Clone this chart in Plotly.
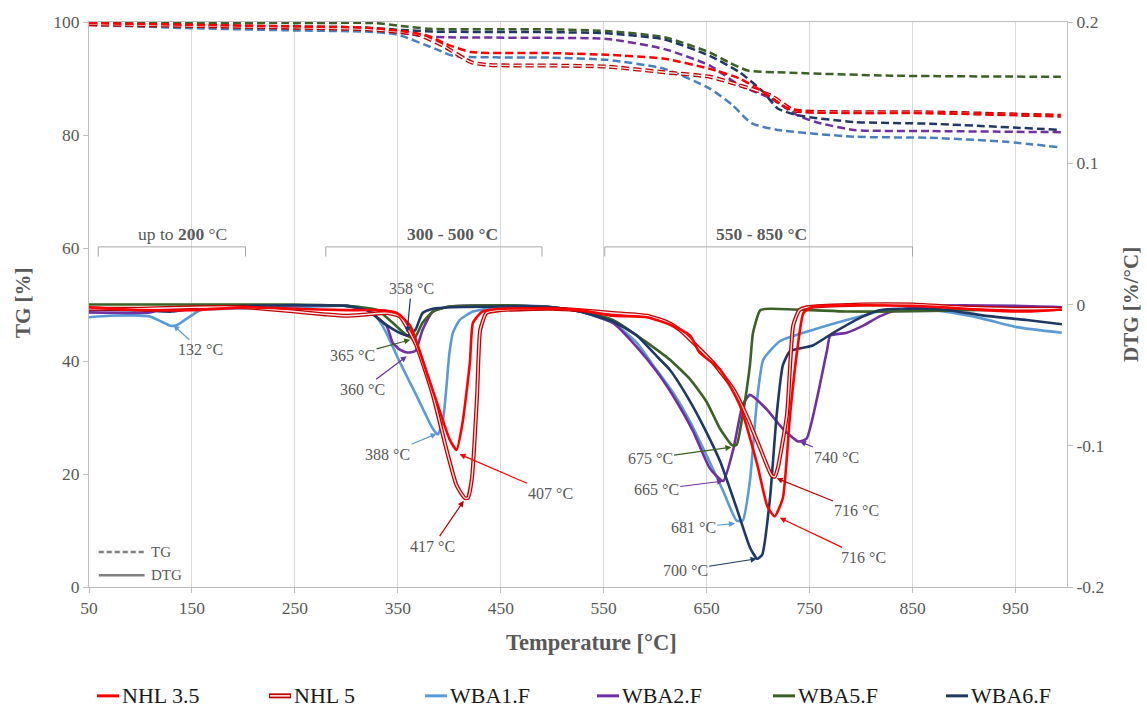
import plotly.graph_objects as go

# ---------------- data ----------------
series_names = ["NHL 3.5", "NHL 5", "WBA1.F", "WBA2.F", "WBA5.F", "WBA6.F"]

# DTG curves [%/°C]
dtg_nhl35_T = [50, 100, 150, 200, 250, 300, 330, 349, 362, 378, 391, 400, 407, 413, 420, 423, 432, 449, 500, 527, 559, 592, 617, 634, 643, 663, 682, 699, 709, 716, 724, 731, 738, 744, 753, 800, 850, 880, 920, 961, 995]
dtg_nhl35_v = [-0.002, -0.004, -0.004, -0.002, -0.003, -0.004, -0.004, -0.006, -0.015, -0.048, -0.076, -0.095, -0.103, -0.083, -0.041, -0.013, -0.005, -0.003, -0.003, -0.004, -0.008, -0.009, -0.015, -0.022, -0.034, -0.046, -0.071, -0.113, -0.143, -0.150, -0.137, -0.078, -0.032, -0.006, -0.0015, -0.0005, -0.001, -0.002, -0.004, -0.005, -0.0035]

dtg_nhl5_T = [50, 100, 150, 200, 250, 280, 300, 320, 340, 352, 368, 384, 397, 407, 415, 418, 422, 427, 430, 436, 449, 500, 527, 559, 592, 610, 624, 637, 656, 676, 689, 702, 713, 716, 719, 728, 734, 740, 747, 800, 850, 900, 950, 995]
dtg_nhl5_v = [-0.003, -0.003, -0.002, -0.002, -0.005, -0.007, -0.008, -0.007, -0.006, -0.0084, -0.029, -0.064, -0.102, -0.128, -0.137, -0.137, -0.123, -0.064, -0.018, -0.006, -0.004, -0.003, -0.004, -0.006, -0.008, -0.012, -0.018, -0.027, -0.041, -0.060, -0.079, -0.102, -0.121, -0.122, -0.116, -0.078, -0.015, -0.004, -0.002, 0.0, 0.0, -0.002, -0.003, -0.003]

dtg_wba1_T = [50, 70, 93, 109, 120, 129, 135, 145, 158, 190, 250, 300, 325, 335, 342, 352, 368.5, 384, 389, 394, 397, 400, 403.5, 410, 423, 449, 480, 500, 527, 559, 582, 598, 617, 634, 650, 666, 679, 685, 692, 699, 705, 721, 753, 786, 818, 850, 880, 918, 951, 995]
dtg_wba1_v = [-0.009, -0.008, -0.0077, -0.0084, -0.012, -0.015, -0.0147, -0.010, -0.004, -0.0028, -0.002, -0.001, -0.005, -0.015, -0.025, -0.041, -0.065, -0.088, -0.092, -0.081, -0.060, -0.035, -0.020, -0.011, -0.005, -0.0014, -0.001, -0.002, -0.005, -0.013, -0.027, -0.043, -0.062, -0.083, -0.107, -0.132, -0.153, -0.153, -0.125, -0.067, -0.039, -0.026, -0.018, -0.011, -0.005, -0.003, -0.005, -0.010, -0.016, -0.020]

dtg_wba2_T = [50, 109, 122, 150, 200, 300, 320, 339, 345, 352, 359, 367, 374, 384, 400, 450, 500, 527, 559, 582, 602, 621, 637, 653, 666, 676, 685, 692, 708, 724, 739, 747, 757, 767, 770, 786, 802, 818, 834, 870, 950, 995]
dtg_wba2_v = [-0.0056, -0.0056, -0.003, -0.002, -0.001, -0.001, -0.004, -0.015, -0.027, -0.032, -0.034, -0.033, -0.018, -0.005, -0.0014, -0.0005, -0.002, -0.005, -0.013, -0.030, -0.048, -0.069, -0.090, -0.116, -0.125, -0.102, -0.071, -0.064, -0.074, -0.088, -0.097, -0.095, -0.067, -0.032, -0.022, -0.020, -0.015, -0.0084, -0.004, -0.001, -0.001, -0.002]

dtg_wba5_T = [50, 150, 250, 300, 330, 345, 359, 366, 374, 384, 400, 450, 500, 527, 559, 592, 614, 634, 650, 663, 674.5, 679, 685, 692, 695, 702, 711.5, 753, 786, 834, 900, 995]
dtg_wba5_v = [0.0, 0.0, 0.0, -0.001, -0.004, -0.013, -0.022, -0.024, -0.013, -0.005, -0.0014, -0.0005, -0.002, -0.005, -0.011, -0.027, -0.039, -0.053, -0.069, -0.088, -0.0995, -0.0995, -0.078, -0.043, -0.020, -0.004, -0.003, -0.004, -0.005, -0.005, -0.004, -0.0035]

dtg_wba6_T = [50, 100, 130, 150, 167, 200, 300, 320, 336, 349, 359, 367, 374, 384, 450, 500, 527, 559, 582, 602, 614, 631, 646, 663, 679, 692, 699, 704, 711.5, 718, 724, 731, 753, 773, 802, 818, 838, 879, 918, 961, 995]
dtg_wba6_v = [-0.0035, -0.004, -0.005, -0.003, -0.003, -0.001, -0.001, -0.004, -0.013, -0.019, -0.022, -0.018, -0.006, -0.003, -0.0014, -0.002, -0.005, -0.012, -0.022, -0.037, -0.046, -0.065, -0.085, -0.111, -0.144, -0.172, -0.180, -0.177, -0.137, -0.078, -0.043, -0.033, -0.029, -0.020, -0.0084, -0.004, -0.003, -0.0035, -0.0077, -0.011, -0.014]

# TG curves [%]
tg_nhl35_T = [50, 150, 250, 319, 353, 380, 397, 421, 498, 553, 609, 653, 682, 705, 727, 746, 867, 994]
tg_nhl35_v = [99.8, 99.5, 99.2, 99.0, 98.4, 97.5, 96.1, 94.7, 94.5, 94.2, 93.5, 91.7, 90.0, 87.6, 84.9, 84.1, 83.9, 83.4]

tg_nhl5_T = [50, 150, 250, 319, 369, 394, 421, 438, 498, 553, 609, 653, 682, 712, 734, 756, 867, 994]
tg_nhl5_v = [99.6, 99.3, 99.0, 98.7, 97.8, 95.8, 92.9, 92.4, 92.3, 92.1, 91.1, 90.3, 88.8, 87.0, 84.4, 84.1, 84.0, 83.4]

tg_wba1_T = [50, 150, 250, 319, 349, 387, 404, 498, 553, 609, 653, 675, 693.5, 719, 793, 867, 941, 994]
tg_wba1_v = [99.5, 98.9, 98.5, 98.3, 97.8, 95.2, 94.0, 93.7, 93.3, 91.7, 88.2, 85.3, 82.1, 80.9, 79.7, 79.5, 78.8, 77.8]

tg_wba2_T = [50, 150, 250, 319, 353, 380, 498, 553, 609, 653, 682, 712, 738, 756, 793, 867, 994]
tg_wba2_v = [99.5, 99.3, 99.1, 99.0, 98.1, 97.4, 97.2, 97.0, 95.2, 92.3, 88.8, 86.5, 83.5, 82.3, 80.9, 80.7, 80.5]

tg_wba5_T = [50, 150, 250, 329, 353, 380, 450, 498, 553, 609, 653, 671, 690, 719, 830, 994]
tg_wba5_v = [99.9, 99.85, 99.8, 99.8, 99.3, 98.8, 98.7, 98.7, 98.4, 97.3, 94.6, 92.9, 91.4, 91.1, 90.5, 90.3]

tg_wba6_T = [50, 150, 250, 319, 353, 387, 498, 553, 609, 653, 682, 705, 719, 738, 793, 867, 994]
tg_wba6_v = [99.6, 99.4, 99.2, 99.0, 98.6, 98.3, 98.2, 98.0, 96.9, 94.0, 91.1, 87.6, 84.7, 83.5, 82.3, 82.0, 80.9]

x_ticks = [50, 150, 250, 350, 450, 550, 650, 750, 850, 950]
tg_ticks = [0, 20, 40, 60, 80, 100]
dtg_ticks = [-0.2, -0.1, 0, 0.1, 0.2]
dtg_ticktext = ["-0.2", "-0.1", "0", "0.1", "0.2"]

# peak labels: (text, text_T, text_DTG, peak_T, peak_DTG, series)
peak_labels = [
    ("132 °C", 158, -0.032, 132, -0.0147, "WBA1.F"),
    ("358 °C", 363, 0.0112, 359, -0.020, "WBA6.F"),
    ("365 °C", 306, -0.036, 362, -0.025, "WBA5.F"),
    ("360 °C", 316, -0.060, 358.6, -0.0367, "WBA2.F"),
    ("388 °C", 340, -0.106, 387.6, -0.0915, "WBA1.F"),
    ("407 °C", 498, -0.1336, 410, -0.106, "NHL 3.5"),
    ("417 °C", 384, -0.171, 414, -0.139, "NHL 5"),
    ("675 °C", 595, -0.109, 674, -0.101, "WBA5.F"),
    ("665 °C", 601, -0.131, 666, -0.125, "WBA2.F"),
    ("681 °C", 637, -0.158, 677.5, -0.155, "WBA1.F"),
    ("700 °C", 629, -0.188, 698.5, -0.180, "WBA6.F"),
    ("740 °C", 776, -0.108, 740.6, -0.097, "WBA2.F"),
    ("716 °C", 796, -0.146, 718, -0.123, "NHL 5"),
    ("716 °C", 802, -0.179, 721, -0.151, "NHL 3.5"),
]

# ---------------- styles ----------------
dtg_color = {"NHL 3.5": "#ff0000", "NHL 5": "#c00000", "WBA1.F": "#5b9bd5",
             "WBA2.F": "#7030a0", "WBA5.F": "#3b6126", "WBA6.F": "#1f3864"}
tg_color = {"NHL 3.5": "#ff0000", "NHL 5": "#c00000", "WBA1.F": "#4a7fbd",
            "WBA2.F": "#7030a0", "WBA5.F": "#3b6126", "WBA6.F": "#1f3864"}
FONT = "Liberation Serif"
GREY = "#595959"

tg_data = {"NHL 3.5": (tg_nhl35_T, tg_nhl35_v), "NHL 5": (tg_nhl5_T, tg_nhl5_v),
           "WBA1.F": (tg_wba1_T, tg_wba1_v), "WBA2.F": (tg_wba2_T, tg_wba2_v),
           "WBA5.F": (tg_wba5_T, tg_wba5_v), "WBA6.F": (tg_wba6_T, tg_wba6_v)}
dtg_data = {"NHL 3.5": (dtg_nhl35_T, dtg_nhl35_v), "NHL 5": (dtg_nhl5_T, dtg_nhl5_v),
            "WBA1.F": (dtg_wba1_T, dtg_wba1_v), "WBA2.F": (dtg_wba2_T, dtg_wba2_v),
            "WBA5.F": (dtg_wba5_T, dtg_wba5_v), "WBA6.F": (dtg_wba6_T, dtg_wba6_v)}

fig = go.Figure()

draw_order = ["WBA1.F", "WBA2.F", "WBA5.F", "WBA6.F", "NHL 5", "NHL 3.5"]

# TG (dashed)
for name in draw_order:
    T, v = tg_data[name]
    if name == "NHL 5":
        fig.add_trace(go.Scatter(x=T, y=v, mode="lines", yaxis="y", showlegend=False,
                                 line=dict(color="#c00000", width=4, dash="8px,4px", shape="spline", smoothing=0.6)))
        fig.add_trace(go.Scatter(x=T, y=v, mode="lines", yaxis="y", showlegend=False,
                                 line=dict(color="#fbe3e3", width=1.4, dash="8px,4px", shape="spline", smoothing=0.6)))
    else:
        fig.add_trace(go.Scatter(x=T, y=v, mode="lines", yaxis="y", showlegend=False,
                                 line=dict(color=tg_color[name], width=2.5, dash="8px,4px", shape="spline", smoothing=0.6)))

# DTG (solid)
for name in draw_order:
    T, v = dtg_data[name]
    if name == "NHL 5":
        fig.add_trace(go.Scatter(x=T, y=v, mode="lines", yaxis="y2", showlegend=False,
                                 line=dict(color="#c00000", width=4, shape="spline", smoothing=0.5)))
        fig.add_trace(go.Scatter(x=T, y=v, mode="lines", yaxis="y2", showlegend=False,
                                 line=dict(color="#fbe3e3", width=1.4, shape="spline", smoothing=0.5)))
    else:
        fig.add_trace(go.Scatter(x=T, y=v, mode="lines", yaxis="y2", showlegend=False,
                                 line=dict(color=dtg_color[name], width=2.6, shape="spline", smoothing=0.5)))

annotations = []
shapes = []

# peak labels with arrows
for text, tx, ty, px_, py_, s in peak_labels:
    annotations.append(dict(x=px_, y=py_, xref="x", yref="y2", ax=tx, ay=ty, axref="x", ayref="y2",
                            text=text, showarrow=True, arrowhead=2, arrowsize=1, arrowwidth=1.2,
                            arrowcolor=dtg_color[s], standoff=0,
                            font=dict(family=FONT, size=16, color=GREY)))

# range brackets
brackets = [(59, 202, "up to <b>200</b> °C", 141), (280, 490, "<b>300 - 500 °C</b>", 403),
            (551, 850, "<b>550 - 850 °C</b>", 703)]
for x0, x1, label, xc in brackets:
    shapes.append(dict(type="path", xref="x", yref="y",
                       path=f"M {x0},58.5 L {x0},60.2 L {x1},60.2 L {x1},58.5",
                       line=dict(color="#a6a6a6", width=1)))
    annotations.append(dict(x=xc, y=62.5, xref="x", yref="y", text=label, showarrow=False,
                            font=dict(family=FONT, size=17.5, color=GREY)))

# TG / DTG line-style key
shapes.append(dict(type="line", xref="x", yref="y", x0=59.5, x1=104, y0=6.2, y1=6.2,
                   line=dict(color="#7f7f7f", width=2.5, dash="5px,3px")))
shapes.append(dict(type="line", xref="x", yref="y", x0=59.5, x1=104, y0=2.1, y1=2.1,
                   line=dict(color="#7f7f7f", width=2.5)))
annotations.append(dict(x=108, y=6.2, xref="x", yref="y", text="TG", showarrow=False, xanchor="left",
                        font=dict(family=FONT, size=15, color=GREY)))
annotations.append(dict(x=108, y=2.1, xref="x", yref="y", text="DTG", showarrow=False, xanchor="left",
                        font=dict(family=FONT, size=15, color=GREY)))

# page geometry
W, H = 1147, 713
L, R, TOP, B = 89, 1067, 16, 587      # plot area in window pixels
PH = B - TOP

def px2paper_x(p):
    return (p - L) / (R - L)

def py2paper_y(p):
    return (B - p) / PH

legend_x = [97, 269, 425, 597, 773, 946]
ly = py2paper_y(697)
for name, lx in zip(series_names, legend_x):
    x0, x1 = px2paper_x(lx), px2paper_x(lx + 22)
    if name == "NHL 5":
        shapes.append(dict(type="line", xref="paper", yref="paper", x0=x0, x1=x1, y0=ly, y1=ly,
                           line=dict(color="#c00000", width=5)))
        shapes.append(dict(type="line", xref="paper", yref="paper", x0=x0 + 0.001, x1=x1 - 0.001, y0=ly, y1=ly,
                           line=dict(color="#fbe3e3", width=1.6)))
    else:
        shapes.append(dict(type="line", xref="paper", yref="paper", x0=x0, x1=x1, y0=ly, y1=ly,
                           line=dict(color=dtg_color[name], width=3)))
    annotations.append(dict(x=px2paper_x(lx + 23), y=ly, xref="paper", yref="paper", text=name,
                            showarrow=False, xanchor="left", yanchor="middle",
                            font=dict(family=FONT, size=22, color="#1a1a1a")))

# axis titles
annotations.append(dict(x=px2paper_x(591), y=py2paper_y(643), xref="paper", yref="paper",
                        text="<b>Temperature [°C]</b>", showarrow=False,
                        xanchor="center", yanchor="middle",
                        font=dict(family=FONT, size=22.5, color=GREY)))
annotations.append(dict(x=px2paper_x(23), y=py2paper_y(300), xref="paper", yref="paper",
                        text="<b>TG [%]</b>", showarrow=False, textangle=-90,
                        xanchor="center", yanchor="middle",
                        font=dict(family=FONT, size=21, color=GREY)))
annotations.append(dict(x=px2paper_x(1131), y=py2paper_y(302), xref="paper", yref="paper",
                        text="<b>DTG [%/°C]</b>", showarrow=False, textangle=-90,
                        xanchor="center", yanchor="middle",
                        font=dict(family=FONT, size=21, color=GREY)))

fig.update_layout(
    width=W, height=H,
    margin=dict(l=L, r=W - R, t=TOP, b=H - B, pad=0),
    paper_bgcolor="white", plot_bgcolor="white",
    showlegend=False,
    font=dict(family=FONT, color=GREY),
    xaxis=dict(range=[50, 1000], tickvals=x_ticks, showgrid=True, gridcolor="#d9d9d9", gridwidth=1,
               zeroline=False, showline=True, linecolor="#bfbfbf", linewidth=1, mirror=True,
               ticks="outside", ticklen=5, tickcolor="#bfbfbf", ticklabeloverflow="allow",
               tickfont=dict(family=FONT, size=17.5, color=GREY)),
    yaxis=dict(range=[0, 100], tickvals=tg_ticks, showgrid=False, zeroline=False,
               showline=True, linecolor="#bfbfbf", linewidth=1, ticks="outside", ticklen=5,
               tickcolor="#bfbfbf", ticklabeloverflow="allow",
               tickfont=dict(family=FONT, size=17.5, color=GREY)),
    yaxis2=dict(range=[-0.2, 0.2], tickvals=dtg_ticks, ticktext=dtg_ticktext, overlaying="y",
                side="right", showgrid=False, zeroline=False, showline=True, linecolor="#bfbfbf",
                linewidth=1, ticks="outside", ticklen=5, tickcolor="#bfbfbf", ticklabeloverflow="allow",
                tickfont=dict(family=FONT, size=17.5, color=GREY)),
    annotations=annotations,
    shapes=shapes,
)

fig.write_html("out.html", config={"displayModeBar": False},
               post_script="document.body.style.margin='0';document.body.style.overflow='hidden';")
